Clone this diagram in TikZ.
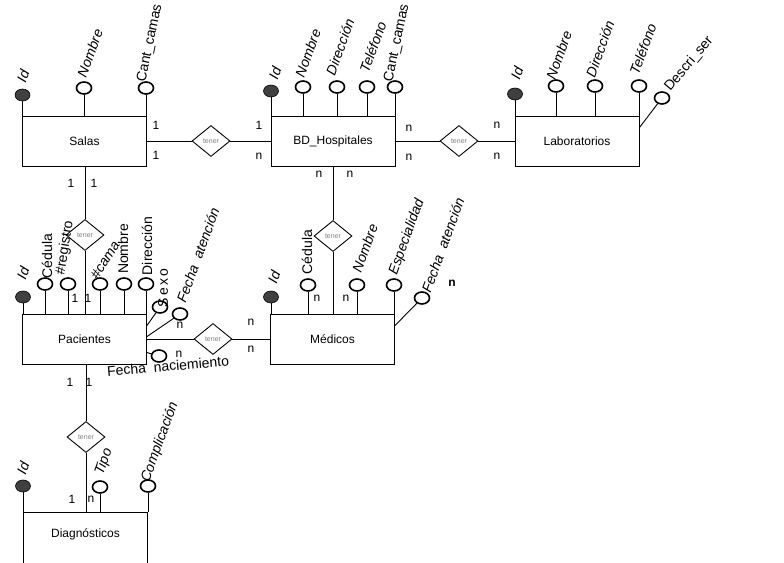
\documentclass[tikz,border=0pt]{standalone}
\usepackage{fontspec}
\setmainfont{Liberation Sans}
\usetikzlibrary{shapes.geometric,calc}
\begin{document}
\begin{tikzpicture}[x=1pt,y=-1pt,
  ent/.style={draw, line width=0.9pt, minimum width=124pt, minimum height=50pt, inner sep=0, font=\fontsize{12}{14}\selectfont},
  rel/.style={draw, diamond, aspect=1.2, minimum width=38pt, minimum height=31pt, inner sep=0, line width=0.9pt, font=\fontsize{7}{8}\selectfont, text=black!50, fill=white},
  att/.style={draw, ellipse, line width=1.6pt, minimum width=15pt, minimum height=12pt, inner sep=0, fill=white},
  key/.style={att, fill=black!75, line width=0.6pt},
  lbl/.style={font=\fontsize{14}{16}\selectfont, inner sep=0},
  ilbl/.style={inner sep=0, font=\fontsize{14}{16}\selectfont\itshape},
  card/.style={font=\fontsize{12}{14}\selectfont, inner sep=0},
  ln/.style={line width=0.9pt}
]
\useasboundingbox (0,0) rectangle (784,562);
\fill[white] (0,0) rectangle (784,562);
\clip (0,0) rectangle (784,562);

% entities
\node[ent] (salas) at (84.5,141) {Salas};
\node[ent] (bdh) at (333,141) {BD\_Hospitales};
\node[ent] (lab) at (577,141) {Laboratorios};
\node[ent] (pac) at (84.5,339) {Pacientes};
\node[ent] (med) at (332.5,339) {Médicos};
\node[ent, minimum height=60pt] (diag) at (85.5,542) {};
\node[card] (diagtxt) at (85.5,534) {Diagnósticos};

% relationships
\node[rel] (r1) at (211,141) {tener};
\node[rel] (r2) at (459,141) {tener};
\node[rel] (r3) at (85,235) {tener};
\node[rel] (r4) at (333,236) {tener};
\node[rel] (r5) at (213,339) {tener};
\node[rel] (r6) at (86,437) {tener};

\draw[ln] (salas.east) -- (r1.west);
\draw[ln] (r1.east) -- (bdh.west);
\draw[ln] (bdh.east) -- (r2.west);
\draw[ln] (r2.east) -- (lab.west);
\draw[ln] (r3.north) -- (r3.north |- salas.south);
\draw[ln] (r3.south) -- (r3.south |- pac.north);
\draw[ln] (r4.north) -- (r4.north |- bdh.south);
\draw[ln] (r4.south) -- (r4.south |- med.north);
\draw[ln] (pac.east) -- (r5.west);
\draw[ln] (r5.east) -- (med.west);
\draw[ln] (r6.north) -- (r6.north |- pac.south);
\draw[ln] (r6.south) -- (r6.south |- diag.north);

% Salas attributes
\node[key] (s1) at (22.5,95) {};
\node[att] (s2) at (84,88) {};
\node[att] (s3) at (146,88) {};
\foreach \a in {s1,s2,s3} \draw[ln] (\a.south) -- (\a.south |- salas.north);
\node[ilbl, rotate=70] (s1t) at (23,76) {Id};
\node[ilbl, rotate=70] (s2t) at (90,53) {Nombre};
\node[lbl, rotate=78] (s3t) at (150,43) {Cant\_camas};

% BD attributes
\node[key] (b1) at (271,91) {};
\node[att] (b2) at (303,87) {};
\node[att] (b3) at (337,87) {};
\node[att] (b4) at (367,87) {};
\node[att] (b5) at (395,87) {};
\foreach \a in {b1,b2,b3,b4,b5} \draw[ln] (\a.south) -- (\a.south |- bdh.north);
\node[ilbl, rotate=70] (b1t) at (275,73) {Id};
\node[ilbl, rotate=70] (b2t) at (308,53) {Nombre};
\node[ilbl, rotate=70] (b3t) at (340,47) {Dirección};
\node[ilbl, rotate=70] (b4t) at (373,47) {Teléfono};
\node[lbl, rotate=78] (b5t) at (397,43) {Cant\_camas};

% Laboratorios attributes
\node[key] (l1) at (515,94) {};
\node[att] (l2) at (556,86) {};
\node[att] (l3) at (595,86) {};
\node[att] (l4) at (639,86) {};
\node[att] (l5) at (662,98) {};
\foreach \a in {l1,l2,l3,l4} \draw[ln] (\a.south) -- (\a.south |- lab.north);
\coordinate (l5c) at ($(lab.north east)+(0,12)$);
\draw[ln] (l5c) -- (l5);
\node[ilbl, rotate=70] (l1t) at (517,73) {Id};
\node[ilbl, rotate=70] (l2t) at (559,55) {Nombre};
\node[ilbl, rotate=70] (l3t) at (600,49) {Dirección};
\node[ilbl, rotate=70] (l4t) at (643,49) {Teléfono};
\node[lbl, rotate=50] (l5t) at (689,64) {Descri\_ser};

% Pacientes attributes
\node[key] (p1) at (23,297) {};
\node[att] (p2) at (45,284) {};
\node[att] (p3) at (68,284) {};
\node[att] (p4) at (100,284) {};
\node[att] (p5) at (124,284) {};
\node[att] (p6) at (146,284) {};
\foreach \a in {p1,p2,p3,p4,p5,p6} \draw[ln] (\a.south) -- (\a.south |- pac.north);
\node[att] (p7) at (160,307) {};
\node[att] (p8) at (180,314) {};
\node[att] (p9) at (159,356) {};
\coordinate (p7c) at ($(pac.north east)+(0,12)$);
\coordinate (p8c) at ($(pac.north east)+(0,23)$);
\coordinate (p9c) at ($(pac.north east)+(0,39)$);
\draw[ln] (p7c) -- (p7);
\draw[ln] (p8c) -- (p8);
\draw[ln] (p9c) -- (p9);
\node[ilbl, rotate=70] (p1t) at (23,273) {Id};
\node[lbl, rotate=90] (p2t) at (47,256) {Cédula};
\node[lbl, rotate=81] (p3t) at (65,248) {\#registro};
\node[ilbl, rotate=58] (p4t) at (105,260) {\#cama};
\node[lbl, rotate=90] (p5t) at (123,249) {Nombre};
\node[lbl, rotate=90] (p6t) at (147,246) {Dirección};
\node[lbl, rotate=90] (p7t) at (163,288) {S\,e\,x\,o};
\node[ilbl, rotate=70] (p8t) at (198,255) {Fecha\ \ atención};
\node[lbl, rotate=5] (p9t) at (168,366) {Fecha\ \ naciemiento};

% Medicos attributes
\node[key] (m1) at (271,297) {};
\node[att] (m2) at (308,285) {};
\node[att] (m3) at (357,285) {};
\node[att] (m4) at (394,285) {};
\node[att] (m5) at (422,298) {};
\foreach \a in {m1,m2,m3,m4} \draw[ln] (\a.south) -- (\a.south |- med.north);
\coordinate (m5c) at ($(med.north east)+(0,12)$);
\draw[ln] (m5c) -- (m5);
\node[ilbl, rotate=70] (m1t) at (274,277) {Id};
\node[lbl, rotate=90] (m2t) at (307,252) {Cédula};
\node[ilbl, rotate=70] (m3t) at (365,248) {Nombre};
\node[ilbl, rotate=70] (m4t) at (407,237) {Especialidad};
\node[ilbl, rotate=70] (m5t) at (443,245) {Fecha\ \ atención};

% Diagnosticos attributes
\node[key] (d1) at (23,486) {};
\node[att] (d2) at (100,487) {};
\node[att] (d3) at (148,486) {};
\foreach \a in {d1,d2,d3} \draw[ln] (\a.south) -- (\a.south |- diag.north);
\node[ilbl, rotate=70] (d1t) at (23,468) {Id};
\node[ilbl, rotate=70] (d2t) at (104,462) {Tipo};
\node[ilbl, rotate=70] (d3t) at (160,442) {Complicación};

% cardinalities
\node[card] (c1) at (156,125) {1};
\node[card] (c2) at (156,155) {1};
\node[card] (c3) at (71,183) {1};
\node[card] (c4) at (94,183) {1};
\node[card] (c5) at (259,125) {1};
\node[card] (c6) at (259,156) {n};
\node[card] (c7) at (409,128) {n};
\node[card] (c8) at (409,157) {n};
\node[card] (c9) at (319,174) {n};
\node[card] (c10) at (350,174) {n};
\node[card] (c11) at (497,125) {n};
\node[card] (c12) at (497,156) {n};
\node[card] (c13) at (75,298) {1};
\node[card] (c14) at (88,298) {1};
\node[card] (c15) at (70,382) {1};
\node[card] (c16) at (89,382) {1};
\node[card] (c17) at (180,325) {n};
\node[card] (c18) at (179,354) {n};
\node[card] (c19) at (317,298) {n};
\node[card] (c20) at (346,298) {n};
\node[card] (c21) at (251,322) {n};
\node[card] (c22) at (251,349) {n};
\node[card, font=\fontsize{12}{14}\selectfont\bfseries] (c23) at (452,283) {n};
\node[card] (c24) at (72,499) {1};
\node[card] (c25) at (91,499) {n};
\end{tikzpicture}
\end{document}
